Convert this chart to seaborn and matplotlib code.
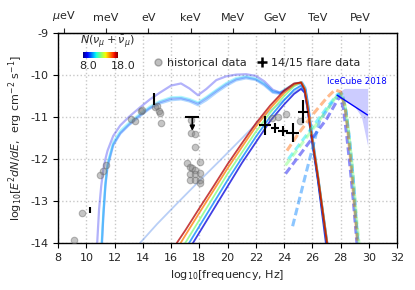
import numpy as np
import matplotlib
matplotlib.use("Agg")
import matplotlib.pyplot as plt
from matplotlib.lines import Line2D
import seaborn as sns

# ---- data ----
# total SED models (synchrotron + high energy bump), colour = N
tot_x = [10.75, 10.9, 11.05, 11.2, 11.35, 11.5, 11.9, 12.4, 13.0, 13.8, 14.5, 15.2, 16.0, 16.7,
         17.3, 17.9, 18.5, 19.2, 19.9, 20.6, 21.3, 22.0, 22.6, 23.2, 23.7, 24.3, 24.8, 25.25,
         25.5, 25.7, 25.9, 26.4, 27.05, 27.3]
tot_n = [9.5, 10.5, 11.5, 9.0]
tot_y = [
    [-15.5, -15.0, -14.3, -13.35, -12.6, -12.15, -11.65, -11.38, -11.18, -10.95, -10.78, -10.65, -10.56, -10.55,
     -10.6, -10.68, -10.55, -10.38, -10.22, -10.1, -10.05, -10.1, -10.22, -10.4, -10.43, -10.3, -10.2, -10.17,
     -10.32, -10.72, -11.25, -12.42, -14.0, -14.6],
    [-15.5, -15.1, -14.4, -13.4, -12.65, -12.2, -11.68, -11.4, -11.2, -10.98, -10.8, -10.68, -10.6, -10.58,
     -10.63, -10.72, -10.6, -10.42, -10.26, -10.13, -10.08, -10.12, -10.25, -10.42, -10.45, -10.32, -10.22, -10.17,
     -10.3, -10.7, -11.22, -12.4, -14.0, -14.6],
    [-15.5, -14.9, -14.2, -13.25, -12.55, -12.1, -11.6, -11.33, -11.14, -10.92, -10.75, -10.62, -10.53, -10.52,
     -10.57, -10.65, -10.52, -10.35, -10.19, -10.07, -10.03, -10.08, -10.2, -10.38, -10.41, -10.29, -10.2, -10.19,
     -10.34, -10.74, -11.28, -12.48, -14.1, -14.6],
    [-14.1, -13.2, -12.65, -12.25, -12.0, -11.8, -11.45, -11.2, -11.0, -10.77, -10.58, -10.42, -10.25, -10.2,
     -10.32, -10.48, -10.33, -10.12, -10.03, -9.99, -9.98, -10.02, -10.15, -10.35, -10.42, -10.33, -10.23, -10.2,
     -10.35, -10.75, -11.3, -12.45, -14.0, -14.6],
]

# high energy component alone
comp_x = [16.4, 17.0, 18.0, 19.0, 20.0, 21.0, 22.0, 23.0, 24.0, 24.7, 25.2, 25.45, 25.65, 25.85, 26.4, 27.05, 27.3]
comp_n = [8.8, 10.5, 13.0, 15.8, 17.5]
comp_y = [
    [-14.65, -14.3, -13.75, -13.2, -12.65, -12.1, -11.6, -11.1, -10.7, -10.45, -10.33, -10.42, -10.8, -11.3, -12.55, -14.25, -14.7],
    [-14.5, -14.15, -13.6, -13.05, -12.5, -11.98, -11.47, -11.0, -10.6, -10.35, -10.25, -10.38, -10.78, -11.3, -12.5, -14.1, -14.6],
    [-14.35, -14.0, -13.45, -12.9, -12.35, -11.85, -11.35, -10.9, -10.5, -10.27, -10.17, -10.3, -10.7, -11.2, -12.4, -14.0, -14.6],
    [-14.15, -13.82, -13.28, -12.75, -12.22, -11.72, -11.23, -10.8, -10.43, -10.23, -10.17, -10.32, -10.72, -11.22, -12.42, -14.02, -14.6],
    [-14.0, -13.7, -13.17, -12.65, -12.12, -11.63, -11.15, -10.73, -10.37, -10.2, -10.18, -10.35, -10.75, -11.25, -12.45, -14.05, -14.6],
]

# pale low component
pale_x = [13.8, 15.0, 16.5, 18.0, 19.5, 21.0, 22.5, 23.5, 24.5, 25.2, 25.5, 25.8, 26.4, 27.05]
pale_y = [-14.0, -13.55, -13.03, -12.52, -12.02, -11.51, -11.0, -10.72, -10.45, -10.3, -10.4, -11.0, -12.4, -14.0]

# dashed very high energy curves
dash_n = [9.0, 10.5, 11.5, 13.0, 16.0]
dash_x = [
    [24.1, 25.0, 26.0, 27.0, 27.6, 27.95, 28.2, 28.45, 28.7, 28.9, 29.05, 29.15],
    [24.6, 25.5, 26.5, 27.3, 27.9, 28.15, 28.4, 28.65, 28.9, 29.05, 29.15, 29.25],
    [24.3, 25.2, 26.2, 27.2, 27.8, 28.1, 28.35, 28.6, 28.85, 29.05, 29.2, 29.3],
    [24.1, 25.0, 26.0, 27.0, 27.6, 28.0, 28.3, 28.55, 28.8, 29.0, 29.15, 29.3],
    [24.2, 25.0, 26.0, 27.0, 27.6, 28.0, 28.3, 28.5, 28.7, 28.9, 29.05, 29.2],
]
dash_y = [
    [-12.35, -11.95, -11.5, -11.05, -10.7, -10.5, -10.8, -11.5, -12.3, -13.0, -13.6, -14.0],
    [-13.6, -12.4, -11.1, -10.7, -10.45, -10.5, -10.9, -11.6, -12.5, -13.2, -13.7, -14.1],
    [-12.0, -11.6, -11.15, -10.7, -10.45, -10.45, -10.8, -11.5, -12.4, -13.3, -13.8, -14.1],
    [-12.15, -11.75, -11.3, -10.85, -10.55, -10.45, -10.7, -11.3, -12.1, -12.9, -13.5, -14.0],
    [-11.8, -11.4, -10.95, -10.55, -10.35, -10.4, -10.75, -11.3, -12.0, -12.8, -13.4, -14.0],
]

# historical data (grey circles)
hist_x = [9.13, 9.7, 10.97, 11.2, 11.4, 13.17, 13.45, 13.88, 13.97, 14.87, 15.0, 15.15, 15.22, 15.3,
          17.4, 17.4, 17.7, 17.7, 18.05, 17.13, 17.35, 17.5, 17.7, 17.35, 17.7, 18.05, 17.35, 17.7,
          18.05, 18.05, 23.15, 23.6, 24.1, 25.1]
hist_y = [-13.93, -13.29, -12.38, -12.29, -12.14, -11.05, -11.1, -10.86, -10.83, -10.77, -10.74, -10.85, -10.9, -11.15,
          -11.07, -11.38, -11.41, -11.71, -12.07, -12.1, -12.19, -12.21, -12.26, -12.36, -12.36, -12.33, -12.5, -12.5,
          -12.5, -12.57, -11.02, -11.0, -10.93, -11.1]

# 14/15 flare data
fl_x = [10.27, 14.8, 22.65, 23.36, 23.93, 24.6, 25.34]
fl_y = [-13.21, -10.57, -11.2, -11.26, -11.33, -11.37, -10.87]
fl_xerr = [0, 0, 0.4, 0.3, 0.35, 0.45, 0.35]
fl_yerr = [0.07, 0.14, 0.23, 0.12, 0.12, 0.23, 0.27]
ul_x, ul_y, ul_xerr, ul_arrow = 17.5, -11.0, 0.5, -11.33

# IceCube 2018
ice_x = [27.75, 28.3, 29.0, 29.5, 29.95]
ice_hi = [-10.45, -10.33, -10.33, -10.33, -10.33]
ice_lo = [-10.5, -10.6, -10.75, -11.0, -11.7]
ice_line_x = [27.75, 29.9]
ice_line_y = [-10.48, -10.95]

energy_pos = [8.383, 11.383, 14.383, 17.383, 20.383, 23.383, 26.383, 29.383]
energy_lab = [r"$\mu$eV", "meV", "eV", "keV", "MeV", "GeV", "TeV", "PeV"]

# ---- plot ----
sns.set_style("ticks")
plt.rcParams["font.family"] = ["DejaVu Sans"]
plt.rcParams["axes.unicode_minus"] = False
plt.rcParams["mathtext.fontset"] = "dejavusans"

cmap = plt.get_cmap("jet")
norm = plt.Normalize(8, 18)

fig, ax = plt.subplots(figsize=(4.15, 2.9), dpi=100)
fig.subplots_adjust(left=0.14, right=0.957, bottom=0.162, top=0.886)

for n, ys in zip(tot_n, tot_y):
    sns.lineplot(x=tot_x, y=ys, color=cmap(norm(n)), alpha=0.3, lw=1.6,
                 sort=False, estimator=None, ax=ax)

sns.lineplot(x=pale_x, y=pale_y, color="cornflowerblue", alpha=0.45, lw=1.3,
             sort=False, estimator=None, ax=ax)

for n, ys in zip(comp_n, comp_y):
    sns.lineplot(x=comp_x, y=ys, color=cmap(norm(n)), alpha=0.75, lw=1.3,
                 sort=False, estimator=None, ax=ax)

for n, xs, ys in zip(dash_n, dash_x, dash_y):
    sns.lineplot(x=xs, y=ys, color=cmap(norm(n)), alpha=0.45, lw=2.2, dashes=False,
                 linestyle=(0, (2.5, 1.2)), sort=False, estimator=None, ax=ax)

ice_poly_x = ice_x + ice_x[::-1]
ice_poly_y = ice_hi + ice_lo[::-1]
ax.fill(ice_poly_x, ice_poly_y, facecolor="blue", alpha=0.2, edgecolor="none")
ax.plot(ice_line_x, ice_line_y, color="blue", lw=1)
ax.text(27.05, -10.155, "IceCube 2018", color="blue", fontsize=6.2, va="center", ha="left")

sns.scatterplot(x=hist_x, y=hist_y, color="gray", alpha=0.45, s=22, edgecolor="dimgray",
                linewidth=0.8, ax=ax, zorder=4)

ax.errorbar(fl_x, fl_y, xerr=fl_xerr, yerr=fl_yerr, fmt="none", ecolor="k",
            elinewidth=1.5, capsize=0, zorder=5)
ax.errorbar([ul_x], [ul_y], xerr=[ul_xerr], fmt="none", ecolor="k", elinewidth=1.5, zorder=5)
ax.annotate("", xy=(ul_x, ul_arrow), xytext=(ul_x, ul_y),
            arrowprops=dict(arrowstyle="-|>", color="k", lw=1.2, mutation_scale=7,
                            shrinkA=0, shrinkB=0), zorder=5)

ax.set_xlim(8, 32)
ax.set_ylim(-14, -9)
ax.set_xticks(range(8, 33, 2))
ax.set_yticks(range(-14, -8))
ax.grid(True, ls=":", color="#c8c8c8", lw=1)
ax.set_axisbelow(True)
ax.tick_params(direction="out", length=3.5, labelsize=8, color="k")
for sp in ax.spines.values():
    sp.set_color("k")
    sp.set_linewidth(1)
ax.set_xlabel(r"log$_{10}$[frequency, Hz]", fontsize=8)
ax.set_ylabel(r"log$_{10}$[$E^2dN/dE$,  erg cm$^{-2}$ s$^{-1}$]", fontsize=8)

sec = ax.secondary_xaxis("top")
sec.set_xticks(energy_pos, labels=energy_lab)
sec.tick_params(direction="out", length=3.5, labelsize=8)

# colour scale for N
cax = ax.inset_axes([0.074, 0.881, 0.103, 0.029])
cax.imshow(np.linspace(0, 1, 256)[None, :], aspect="auto", cmap=cmap)
cax.axis("off")
ax.text(0.146, 0.957, r"$N(\nu_\mu+\bar{\nu}_\mu)$", transform=ax.transAxes,
        ha="center", va="center", fontsize=8)
ax.text(0.0885, 0.843, "8.0", transform=ax.transAxes, ha="center", va="center", fontsize=8)
ax.text(0.193, 0.843, "18.0", transform=ax.transAxes, ha="center", va="center", fontsize=8)

handles = [Line2D([], [], marker="o", ls="", color="gray", alpha=0.5, mec="dimgray", ms=5),
           Line2D([], [], marker="+", ls="", color="k", ms=7, mew=1.8)]
ax.legend(handles, ["historical data", "14/15 flare data"], loc="center",
          bbox_to_anchor=(0.587, 0.857), ncol=2, frameon=False, fontsize=8,
          handlelength=0.8, handletextpad=0.4, columnspacing=1.0)

fig.savefig("out.png", dpi=100)
plt.close(fig)
